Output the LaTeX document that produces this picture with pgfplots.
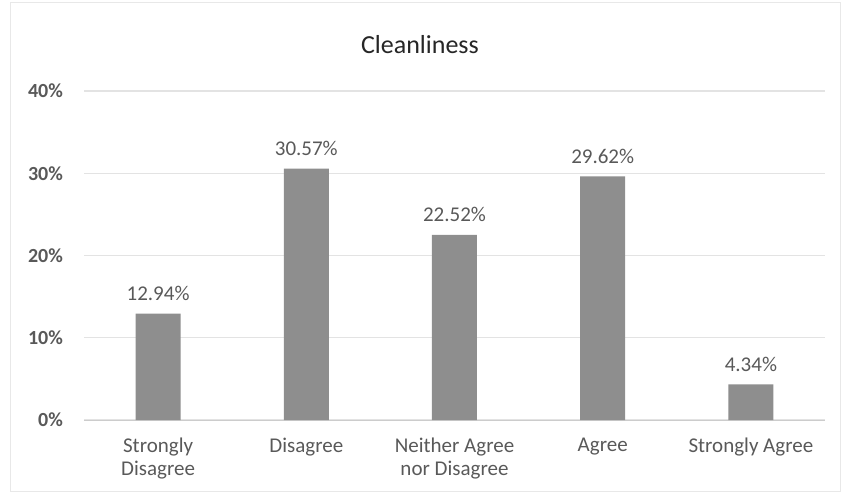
\documentclass[border=0pt]{standalone}
\usepackage{pgfplots}
\pgfplotsset{compat=1.18}
\usepackage{fontspec}
\setmainfont{Carlito}
\definecolor{barc}{HTML}{8E8E8E}
\definecolor{txt}{HTML}{595959}
\definecolor{grid}{HTML}{E3E3E3}
\begin{document}
\begin{tikzpicture}
\path[use as bounding box] (0,0) rectangle (421.5pt,247.5pt);
\draw[gray!18] (5pt,2pt) rectangle (420pt,246.5pt);
\node[font=\fontsize{13}{15}\selectfont, text=black!85] at (210pt,225pt) {Cleanliness};
\begin{axis}[
  at={(42pt,37.5pt)}, anchor=south west,
  scale only axis, width=370.5pt, height=164.5pt,
  xmin=-0.5, xmax=4.5, ymin=0, ymax=40,
  ybar, bar width=22.5pt,
  xtick={0,1,2,3,4},
  xticklabels={{Strongly\\Disagree},{Disagree},{Neither Agree\\nor Disagree},{Agree},{Strongly Agree}},
  x tick label style={align=center, font=\fontsize{10.5}{11.5}\selectfont, text=txt, yshift=-5.5pt},
  ytick={0,10,20,30,40},
  yticklabel={\pgfmathprintnumber{\tick}\%},
  y tick label style={font=\bfseries\fontsize{10}{12}\selectfont, text=txt, xshift=-7pt},
  /pgf/number format/assume math mode=true,
  axis y line*=left, y axis line style={draw=none},
  axis x line*=bottom, x axis line style={draw=grid!90!black},
  major tick length=0pt,
  ymajorgrids, grid style={draw=grid, line width=0.6pt},
  nodes near coords={\pgfmathprintnumber[fixed,precision=2,fixed zerofill]{\pgfplotspointmeta}\%},
  nodes near coords style={font=\fontsize{10.5}{12}\selectfont, text=txt, yshift=3pt},
]
\addplot[fill=barc, draw=none] coordinates {(0,12.94) (1,30.57) (2,22.52) (3,29.62) (4,4.34)};
\end{axis}
\end{tikzpicture}
\end{document}
